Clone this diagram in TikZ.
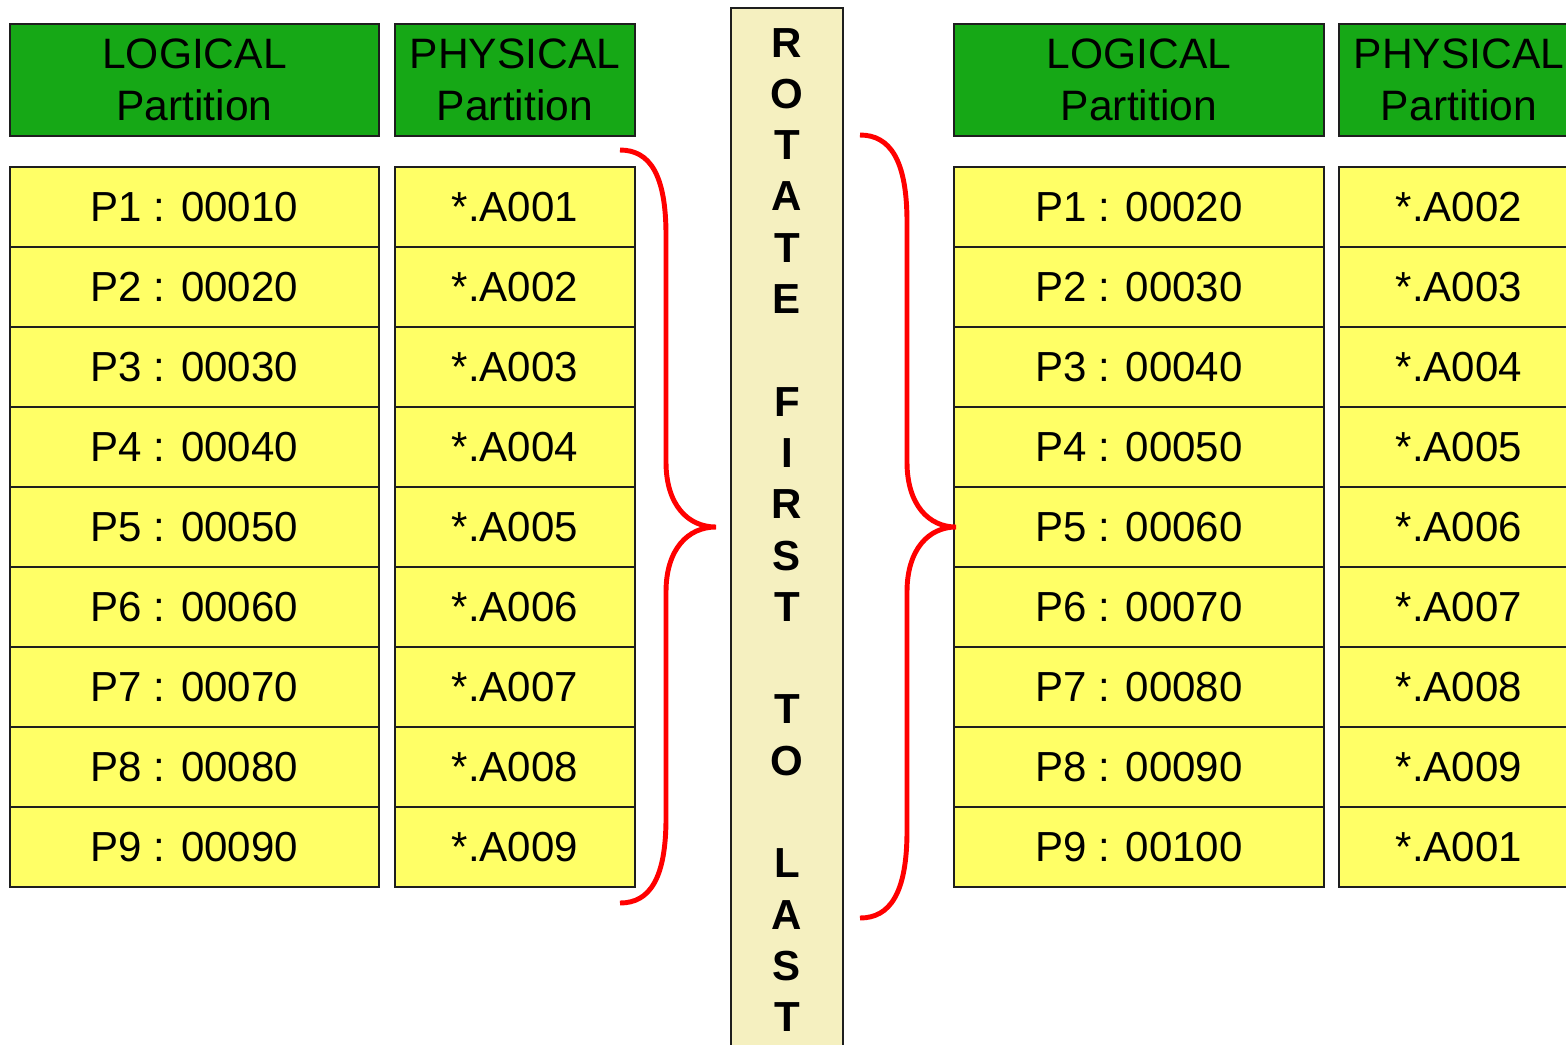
\documentclass[tikz,border=0pt]{standalone}
\usepackage{fontspec}
\setmainfont{Liberation Sans}
\usetikzlibrary{positioning}

\definecolor{hdrgreen}{RGB}{22,168,22}
\definecolor{cellyellow}{RGB}{255,255,102}
\definecolor{colbeige}{RGB}{245,240,192}
\definecolor{edgegray}{RGB}{30,30,30}

\tikzset{
  hdr/.style={draw=edgegray, fill=hdrgreen, line width=0.6pt, align=center,
    inner sep=0pt, minimum height=1.12cm,
    font=\fontsize{12.1}{14.6}\selectfont},
  cell/.style={draw=edgegray, fill=cellyellow, line width=0.6pt,
    inner sep=0pt, minimum height=0.8cm, font=\fontsize{11.95}{14.6}\selectfont},
  logw/.style={minimum width=3.69cm},
  phyw/.style={minimum width=2.40cm},
  rotcol/.style={draw=edgegray, fill=colbeige, line width=0.6pt,
    minimum width=1.12cm, minimum height=10.6cm, inner sep=0pt},
  rotletter/.style={font=\fontsize{11.95}{14.6}\selectfont\bfseries, inner sep=0pt,
    anchor=base},
  brace/.style={draw=red, line width=1.4pt}
}

\begin{document}
\begin{tikzpicture}[x=0.01cm, y=-0.01cm]
  \useasboundingbox (0,0) rectangle (1566,1044);

  % headers
  \node[hdr, logw] (hl) at (194.5,80) {LOGICAL\\Partition};
  \node[hdr, phyw] (hp) at (515,80) {PHYSICAL\\Partition};
  \node[hdr, logw] (hl2) at (1139,80) {LOGICAL\\Partition};
  \node[hdr, phyw] (hp2) at (1459,80) {PHYSICAL\\Partition};

  % before the rotation
  \foreach \lv [count=\i] in {00010,00020,00030,00040,00050,00060,00070,00080,00090}
    \node[cell, logw] (l\i) at (194.5,127+80*\i) {P\i{} : \lv};
  \foreach \pv [count=\i] in {A001,A002,A003,A004,A005,A006,A007,A008,A009}
    \node[cell, phyw] (p\i) at (515,127+80*\i) {*.\pv};

  % after the rotation
  \foreach \lv [count=\i] in {00020,00030,00040,00050,00060,00070,00080,00090,00100}
    \node[cell, logw] (r\i) at (1139,127+80*\i) {P\i{} : \lv};
  \foreach \pv [count=\i] in {A002,A003,A004,A005,A006,A007,A008,A009,A001}
    \node[cell, phyw] (q\i) at (1459,127+80*\i) {*.\pv};

  % middle column
  \node[rotcol, anchor=north] (rot) at (787,7) {};
  \foreach \ch/\k in {R/0,O/1,T/2,A/3,T/4,E/5,F/7,I/8,R/9,S/10,T/11,T/13,O/14,L/16,A/17,S/18,T/19}
    \node[rotletter] (ch\k) at (787,57+51.3*\k) {\ch};

  % braces
  \coordinate (tipl) at (716,527);
  \coordinate (tipr) at (956,527);
  \draw[brace] (620,150) .. controls (650,150) and (666,175) .. (666,235)
    -- (666,462) .. controls (666,505) and (688,527) .. (tipl)
    .. controls (688,527) and (666,549) .. (666,592)
    -- (666,818) .. controls (666,878) and (650,903) .. (620,903);
  \draw[brace] (860,135) .. controls (890,135) and (907,160) .. (907,222)
    -- (907,462) .. controls (907,505) and (929,527) .. (tipr)
    .. controls (929,527) and (907,549) .. (907,592)
    -- (907,831) .. controls (907,893) and (890,918) .. (860,918);

\end{tikzpicture}
\end{document}
